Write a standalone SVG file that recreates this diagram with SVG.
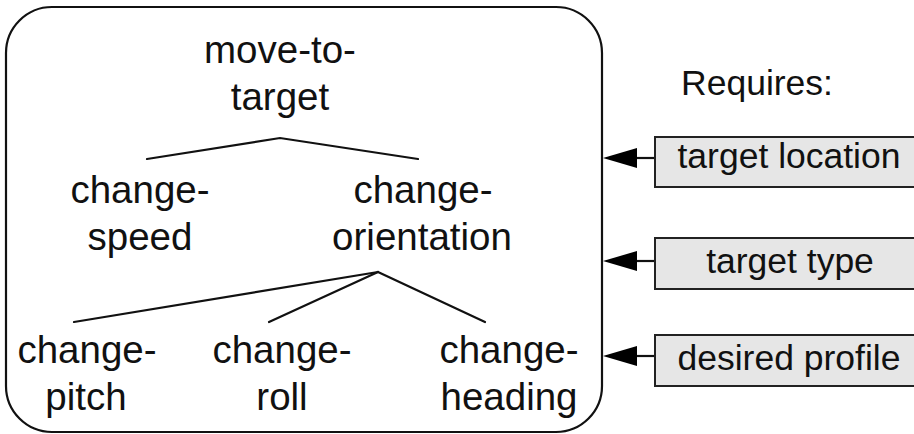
<svg xmlns="http://www.w3.org/2000/svg" width="914" height="434" viewBox="0 0 914 434">
  <style>
    .frame { fill: #ffffff; stroke: #111111; stroke-width: 2.2; }
    .tree { font-family: "Liberation Sans", Arial, sans-serif; font-size: 38.5px; fill: #111111; text-anchor: middle; }
    .side { font-family: "Liberation Sans", Arial, sans-serif; font-size: 35.5px; fill: #111111; text-anchor: middle; }
    .edge { stroke: #111111; stroke-width: 2.2; fill: none; stroke-linecap: round; }
    .req { fill: #e6e6e6; stroke: #222222; stroke-width: 2; }
    .feed { stroke: #111111; stroke-width: 2.2; }
    .head { fill: #000000; }
  </style>
  <rect width="914" height="434" fill="#ffffff"/>

  <!-- behaviour container -->
  <rect id="container" class="frame" x="6" y="7" width="596" height="425" rx="46" ry="46"/>

  <!-- tree connectors -->
  <g id="connectors">
    <polyline class="edge" points="147,159 280,138 418,159"/>
    <line class="edge" x1="378" y1="272" x2="74" y2="322"/>
    <line class="edge" x1="378" y1="272" x2="269" y2="322"/>
    <line class="edge" x1="378" y1="272" x2="485" y2="322"/>
    <!-- requirement arrows into the container -->
    <line class="feed" x1="636" y1="158" x2="656" y2="158"/>
    <polygon class="head" points="603,158 637,148 637,168"/>
    <line class="feed" x1="636" y1="261" x2="656" y2="261"/>
    <polygon class="head" points="603,261 637,251 637,271"/>
    <line class="feed" x1="636" y1="356" x2="656" y2="356"/>
    <polygon class="head" points="603,356 637,346 637,366"/>
  </g>

  <g id="move-to-target">
    <text class="tree" x="280" y="63">move-to-</text>
    <text class="tree" x="280" y="110">target</text>
  </g>
  <g id="change-speed">
    <text class="tree" x="140" y="203">change-</text>
    <text class="tree" x="140" y="250">speed</text>
  </g>
  <g id="change-orientation">
    <text class="tree" x="423" y="203">change-</text>
    <text class="tree" x="422" y="250">orientation</text>
  </g>
  <g id="change-pitch">
    <text class="tree" x="87" y="363">change-</text>
    <text class="tree" x="86" y="410">pitch</text>
  </g>
  <g id="change-roll">
    <text class="tree" x="282" y="363">change-</text>
    <text class="tree" x="282" y="410">roll</text>
  </g>
  <g id="change-heading">
    <text class="tree" x="509" y="363">change-</text>
    <text class="tree" x="509" y="410">heading</text>
  </g>

  <g id="requires">
    <text class="side" x="757" y="95">Requires:</text>
  </g>
  <g id="target-location">
    <rect class="req" x="655" y="137" width="270" height="50"/>
    <text class="side" x="789" y="168">target location</text>
  </g>
  <g id="target-type">
    <rect class="req" x="655" y="238" width="270" height="51"/>
    <text class="side" x="790" y="273">target type</text>
  </g>
  <g id="desired-profile">
    <rect class="req" x="655" y="335" width="270" height="51"/>
    <text class="side" x="789" y="370">desired profile</text>
  </g>
</svg>
